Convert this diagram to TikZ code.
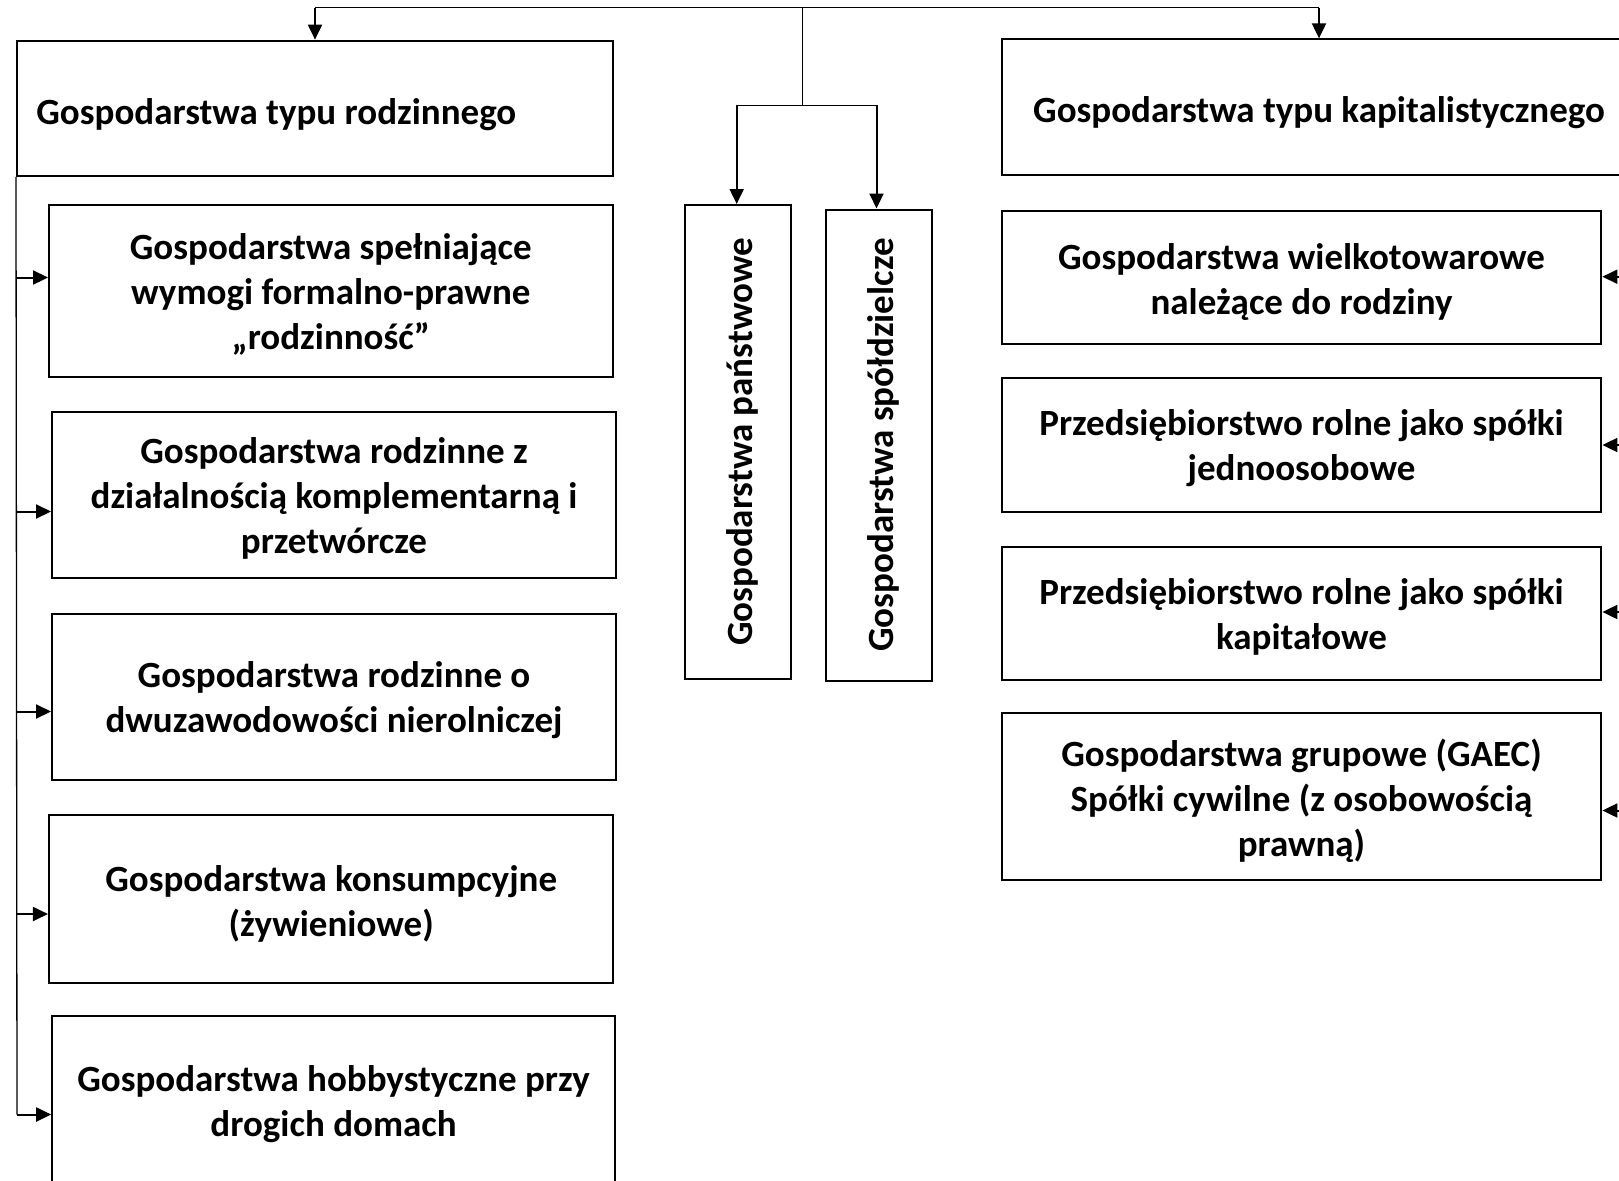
\documentclass[tikz,border=0pt]{standalone}
\usepackage{fontspec}
\setmainfont{Carlito}
\usetikzlibrary{arrows.meta}
\begin{document}
\begin{tikzpicture}[x=0.5pt,y=-0.5pt,
  box/.style={draw=black,line width=1pt,rectangle,inner sep=0pt},
  txt/.style={font=\bfseries\fontsize{18.5pt}{22.5pt}\selectfont,inner sep=0pt,align=center},
  thinline/.style={line width=0.65pt},
  arr/.style={line width=1pt,-{Triangle[length=7.5pt,width=7pt]}}]
\useasboundingbox (0,0) rectangle (1619,1180);
\clip (0,0) rectangle (1619,1180);

% top boxes
\node[box, minimum width=298pt, minimum height=67.65pt] (famL) at (315,108.3) {};
\node[txt, anchor=west] (famLt) at ([xshift=10pt,yshift=-3pt]famL.west) {Gospodarstwa typu rodzinnego};
\node[box, minimum width=317pt, minimum height=67.85pt] (famK) at (1319,107.2) {};
\node[txt] (famKt) at ([yshift=-2.5pt]famK.center) {Gospodarstwa typu kapitalistycznego};

% left column
\node[box, minimum width=281.75pt, minimum height=86pt] (L1) at (330.8,291) {};
\node[txt] (L1t) at ([yshift=-1.8pt]L1.center)
  {Gospodarstwa spełniające\\wymogi formalno-prawne\\„rodzinność”};
\node[box, minimum width=282pt, minimum height=83.3pt] (L2) at (334,495) {};
\node[txt] (L2t) at ([yshift=-1.8pt]L2.center)
  {Gospodarstwa rodzinne z\\działalnością komplementarną i\\przetwórcze};
\node[box, minimum width=282pt, minimum height=83pt] (L3) at (334,696.8) {};
\node[txt] (L3t) at ([yshift=-1.8pt]L3.center)
  {Gospodarstwa rodzinne o\\dwuzawodowości nierolniczej};
\node[box, minimum width=282.25pt, minimum height=83.8pt] (L4) at (331.2,899.2) {};
\node[txt] (L4t) at ([yshift=-2.2pt]L4.center)
  {Gospodarstwa konsumpcyjne\\(żywieniowe)};
\node[box, minimum width=281.4pt, minimum height=84.85pt] (L5) at (333.6,1101) {};
\node[txt] (L5t) at ([yshift=-1.8pt]L5.center)
  {Gospodarstwa hobbystyczne przy\\drogich domach};

% middle boxes
\node[box, minimum width=52.85pt, minimum height=237pt] (P) at (738,442) {};
\node[txt, rotate=90] (Pt) at ([xshift=2pt]P.center) {Gospodarstwa państwowe};
\node[box, minimum width=53pt, minimum height=235.5pt] (S) at (879,445) {};
\node[txt, rotate=90] (St) at ([xshift=2pt]S.center) {Gospodarstwa spółdzielcze};

% right column
\node[box, minimum width=299.9pt, minimum height=66.5pt] (R1) at (1301.5,277.8) {};
\node[txt] (R1t) at ([yshift=-2pt]R1.center)
  {Gospodarstwa wielkotowarowe\\należące do rodziny};
\node[box, minimum width=299.9pt, minimum height=67pt] (R2) at (1301.5,444.5) {};
\node[txt] (R2t) at ([yshift=-2pt]R2.center)
  {Przedsiębiorstwo rolne jako spółki\\jednoosobowe};
\node[box, minimum width=299.9pt, minimum height=66.5pt] (R3) at (1301.5,613) {};
\node[txt] (R3t) at ([yshift=-2pt]R3.center)
  {Przedsiębiorstwo rolne jako spółki\\kapitałowe};
\node[box, minimum width=299.9pt, minimum height=83.8pt] (R4) at (1301.5,796.4) {};
\node[txt] (R4t) at ([yshift=-2pt]R4.center)
  {Gospodarstwa grupowe (GAEC)\\Spółki cywilne (z osobowością\\prawną)};

% top connectors
\coordinate (tl) at (315,7.5);
\coordinate (tr) at (1319,7.5);
\coordinate (tc) at (802.5,7.5);
\coordinate (bc) at (802.5,105.3);
\coordinate (bl) at (736.7,105.3);
\coordinate (br) at (876.5,105.3);
\draw[thinline] (tl) -- (tr);
\draw[arr] (tl) -- (famL.north);
\draw[arr] (tr) -- (famK.north);
\draw[thinline] (tc) -- (bc);
\draw[thinline] (bl) -- (br);
\draw[arr] (bl) -- (bl |- P.north);
\draw[arr] (br) -- (br |- S.north);

% left trunk
\coordinate (a1) at (17,277.5);
\coordinate (a2) at (17,511.5);
\coordinate (a3) at (17,711.5);
\coordinate (a4) at (17,914);
\coordinate (a5) at (17,1114.5);
\draw[thinline] (famL.south west) -- (a5);
\draw[arr] (a1) -- (a1 -| L1.west);
\draw[arr] (a2) -- (a2 -| L2.west);
\draw[arr] (a3) -- (a3 -| L3.west);
\draw[arr] (a4) -- (a4 -| L4.west);
\draw[arr] (a5) -- (a5 -| L5.west);

% right arrows (trunk lies outside the frame)
\coordinate (b1) at (1650,276.7);
\coordinate (b2) at (1650,445);
\coordinate (b3) at (1650,612);
\coordinate (b4) at (1650,810.5);
\draw[thinline] (b1) -- (b4);
\draw[arr] (b1) -- (b1 -| R1.east);
\draw[arr] (b2) -- (b2 -| R2.east);
\draw[arr] (b3) -- (b3 -| R3.east);
\draw[arr] (b4) -- (b4 -| R4.east);
\end{tikzpicture}
\end{document}
